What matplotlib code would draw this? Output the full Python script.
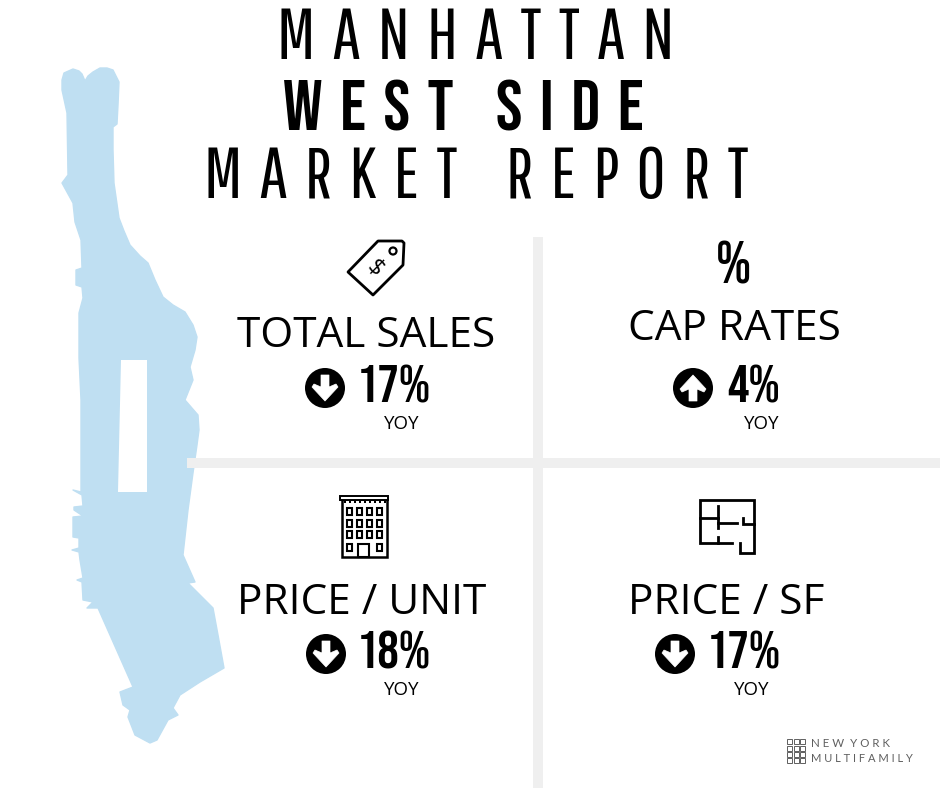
import matplotlib
matplotlib.use('agg')
import matplotlib.pyplot as plt
from matplotlib.patches import Polygon, Circle, Rectangle

THIN = ['Pathway Gothic One', 'DejaVu Sans']
BOLD = ['Bebas Neue', 'DejaVu Sans']
GREY = '#efefef'
BLUE = '#bfdff2'

title_words = [['MANHATTAN'], ['WEST', 'SIDE'], ['MARKET', 'REPORT']]
labels = ['TOTAL SALES', 'CAP RATES', 'PRICE / UNIT', 'PRICE / SF']
changes = [17, 4, 18, 17]
directions = ['down', 'up', 'down', 'down']

# outline of the island, in pixels
island = [(62, 80), (64, 73), (73, 69), (79, 71), (82, 74), (85, 81), (88, 76), (93, 72), (100, 68),
          (107, 68), (113, 70), (119, 82), (118, 105), (117, 124), (113, 127), (113, 150), (114, 183),
          (119, 218), (124, 231), (130, 245), (140, 256), (148, 263), (155, 280), (163, 297), (173, 305),
          (185, 312), (193, 325), (197, 337), (195, 350), (190, 367), (193, 380), (185, 400), (198, 415),
          (199, 430), (197, 445), (193, 473), (188, 510), (183, 555), (195, 582), (188, 583), (203, 598),
          (213, 608), (218, 635), (224, 668), (200, 682), (180, 695), (173, 708), (178, 715), (168, 720),
          (157, 740), (150, 743), (135, 735), (128, 717), (130, 710), (123, 705), (120, 692), (133, 687),
          (98, 608), (87, 608), (93, 602), (83, 600), (82, 582), (77, 580), (83, 578), (80, 560), (79, 552),
          (72, 550), (79, 548), (79, 538), (73, 537), (73, 517), (83, 516), (74, 510), (74, 507), (83, 506),
          (82, 495), (73, 490), (81, 492), (81, 400), (79, 358), (79, 313), (83, 298), (82, 287), (76, 285),
          (76, 270), (82, 268), (81, 240), (75, 222), (73, 203), (62, 183), (68, 175), (67, 113), (62, 90)]
park = [(121, 360), (147, 360), (147, 492), (118, 492)]


# letterspacing by hand, the fallback family supplies the narrow unicode spaces
def spaced(words, gap, word_gap):
    return word_gap.join(gap.join(w) for w in words)


fig = plt.figure(figsize=(9.4, 7.88), dpi=100)
ax = fig.add_axes([0, 0, 1, 1])
ax.set_xlim(0, 940)
ax.set_ylim(788, 0)
ax.axis('off')

ax.add_patch(Polygon(island, closed=True, fc=BLUE, ec=BLUE, lw=1, joinstyle='round', zorder=1))
ax.add_patch(Polygon(park, closed=True, fc='white', ec='none', zorder=2))

# dividers
ax.add_patch(Rectangle((533, 237), 10, 551, fc=GREY, ec='none', zorder=3))
ax.add_patch(Rectangle((187, 458), 753, 10, fc=GREY, ec='none', zorder=3))

# title
thin_gap = ' \u200a'
bold_gap = '\u2005'
ax.text(476, 39, spaced(title_words[0], thin_gap, thin_gap * 2), family=THIN, fontsize=51, ha='center', va='center')
ax.text(463, 105, spaced(title_words[1], bold_gap, bold_gap * 2 + '\u200a'), family=BOLD, fontsize=51, ha='center', va='center')
ax.text(476, 178, spaced(title_words[2], thin_gap, thin_gap * 2 + '\u200a' * 2), family=THIN, fontsize=51, ha='center', va='center')


def arrow_badge(cx, cy, direction):
    ax.add_patch(Circle((cx, cy), 20, fc='black', ec='none', zorder=4))
    s = 1 if direction == 'down' else -1
    pts = [(-4, -13 * s), (4, -13 * s), (4, -1 * s), (11, -4 * s), (13, -1 * s), (0, 13 * s), (-13, -1 * s), (-11, -4 * s), (-4, -1 * s)]
    ax.add_patch(Polygon([(cx + x, cy + y) for x, y in pts], fc='white', ec='white',
                         lw=0.5, joinstyle='round', zorder=5))


label_pos = [(366, 336), (734, 329), (362, 603), (726, 603)]
badge_pos = [(325, 388), (693, 388), (326, 654), (675, 654)]
pct_pos = [(394, 384), (754, 384), (394, 650), (744, 650)]
yoy_pos = [(402, 424), (762, 424), (402, 690), (752, 690)]

for i in range(4):
    ax.text(*label_pos[i], labels[i], family='Open Sans', fontsize=30.5, ha='center', va='center')
    arrow_badge(*badge_pos[i], directions[i])
    ax.text(*pct_pos[i], f'{changes[i]}%', family=BOLD, fontsize=38.5, ha='center', va='center')
    ax.text(*yoy_pos[i], 'YOY', family='Open Sans', fontsize=13.5, ha='center', va='center')

# price tag icon
tag = [(378, 241), (402, 241), (404, 243), (403, 265), (373, 295), (348, 272)]
ax.add_patch(Polygon(tag, closed=True, fc='white', ec='black', lw=2, joinstyle='round', zorder=4))
ax.add_patch(Circle((393, 251), 3.5, fc='white', ec='black', lw=1.6, zorder=5))
ax.text(375, 268, '$', family='Open Sans', fontsize=17, rotation=-45, ha='center', va='center', zorder=5)

# percent icon
ax.text(734, 263, '%', family=BOLD, fontsize=43, ha='center', va='center')

# building icon
ax.add_patch(Rectangle((342, 499), 45, 58, fc='white', ec='black', lw=1.8, zorder=4))
ax.add_patch(Rectangle((340, 496), 48, 3.5, fc='white', ec='black', lw=1.4, zorder=5))
for x in range(344, 387, 5):
    ax.add_patch(Rectangle((x, 501), 1.6, 1.6, fc='black', ec='none', zorder=5))
for wy in [511, 523, 534, 547]:
    for wx in [349, 359, 369, 379]:
        if wy == 547 and wx in (359, 369):
            continue
        ax.add_patch(Rectangle((wx - 2.5, wy - 3.5), 5, 7, fc='white', ec='black', lw=1.5, zorder=5))
ax.add_patch(Rectangle((358, 544), 11, 13, fc='white', ec='black', lw=1.5, zorder=5))

# floor plan icon
plan_walls = [[(732, 543), (700, 543), (700, 500), (754, 500), (754, 553), (740, 553), (740, 543)],
              [(700, 518), (718, 518)],
              [(718, 506), (718, 528)],
              [(718, 523), (737, 523)],
              [(743, 518), (743, 524), (754, 524)],
              [(718, 537), (718, 543)]]
for wall in plan_walls:
    ax.plot([p[0] for p in wall], [p[1] for p in wall], color='black', lw=2, solid_joinstyle='miter', zorder=4)

# logo
LOGO = '#5f5f5f'
for ly in [739, 745.5, 752, 758]:
    for lx in [787, 793.5, 800]:
        ax.add_patch(Rectangle((lx, ly), 5, 5, fc='white', ec=LOGO, lw=0.7, zorder=4))
ax.text(811, 743.5, 'N E W  Y O R K', family='Lato', fontsize=8.3, color=LOGO, ha='left', va='center')
ax.text(811, 758, 'M U L T I F A M I L Y', family='Lato', fontsize=8, color=LOGO, ha='left', va='center')

fig.savefig('out.png', dpi=100)
plt.close(fig)
